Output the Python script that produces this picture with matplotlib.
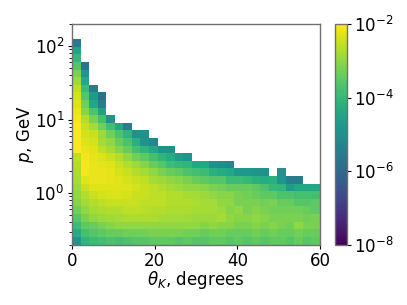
import numpy as np
import matplotlib
matplotlib.use('Agg')
import matplotlib.pyplot as plt
from matplotlib.colors import LogNorm

# log10 of the density, one list per row from the top, missing cells on the right are empty
theta_edges = np.linspace(0, 60, 30)
p_edges = np.logspace(np.log10(200), np.log10(0.2), 30)

row_02 = [-5.6]
row_03 = [-4.5]
row_04 = [-4.0]
row_05 = [-3.6, -5.7]
row_06 = [-3.2, -4.9]
row_07 = [-2.9, -4.4]
row_08 = [-2.6, -3.9, -5.5]
row_09 = [-2.4, -3.6, -4.7, -5.8]
row_10 = [-2.3, -3.3, -4.4, -5.5]
row_11 = [-2.2, -3.1, -3.7, -4.6]
row_12 = [-2.1, -2.7, -3.2, -3.8, -4.9]
row_13 = [-2.0, -2.5, -2.8, -3.3, -3.8, -4.4, -5.5]
row_14 = [-2.0, -2.4, -2.5, -2.9, -3.3, -3.7, -4.1, -5.0, -5.0]
row_15 = [-2.0, -2.3, -2.4, -2.8, -3.0, -3.4, -3.7, -4.2, -4.9, -5.2]
row_16 = [-2.0, -2.2, -2.3, -2.6, -2.8, -3.1, -3.4, -3.8, -4.1, -4.4, -4.9, -5.0]
row_17 = [-2.6, -2.1, -2.25, -2.35, -2.5, -2.7, -3.0, -3.3, -3.5, -3.8, -4.1, -4.3, -4.7, -4.9]
row_18 = [-2.7, -2.05, -2.2, -2.25, -2.3, -2.5, -2.7, -2.9, -3.1, -3.4, -3.6, -3.9, -4.0, -4.1,
          -4.4, -4.4, -5.0, -5.1, -5.2]
row_19 = [-2.75, -2.1, -2.2, -2.2, -2.25, -2.4, -2.5, -2.7, -2.8, -3.0, -3.2, -3.4, -3.5, -3.7,
          -3.8, -3.9, -4.2, -4.3, -4.4, -4.8, -4.8, -4.9, -5.0, np.nan, -5.0]
row_20 = [-2.8, -2.3, -2.2, -2.2, -2.25, -2.3, -2.4, -2.5, -2.6, -2.8, -2.9, -3.0, -3.1, -3.2,
          -3.4, -3.5, -3.6, -3.6, -3.9, -3.9, -4.0, -4.2, -4.3, -4.2, -4.9, -5.5, -5.5]
row_21 = [-2.9, -2.5, -2.3, -2.3, -2.3, -2.3, -2.3, -2.4, -2.5, -2.6, -2.7, -2.8, -2.9, -3.0,
          -3.0, -3.1, -3.2, -3.3, -3.4, -3.4, -3.4, -3.5, -3.7, -4.0, -4.1, -4.7, -4.4, -4.4, -4.4]
row_22 = [-3.0, -2.7, -2.5, -2.4, -2.35, -2.35, -2.4, -2.5, -2.5, -2.6, -2.6, -2.7, -2.7, -2.8,
          -2.8, -2.9, -3.0, -3.1, -3.1, -3.2, -3.3, -3.4, -3.5, -3.5, -3.7, -3.7, -3.8, -3.8, -3.8]
row_23 = [-3.1, -2.8, -2.7, -2.6, -2.5, -2.5, -2.5, -2.5, -2.6, -2.6, -2.6, -2.7, -2.7, -2.7,
          -2.75, -2.8, -2.8, -3.0, -3.0, -3.2, -3.2, -3.2, -3.3, -3.2, -3.4, -3.4, -3.6, -3.6, -3.5]
row_24 = [-3.3, -3.0, -2.8, -2.75, -2.7, -2.7, -2.6, -2.6, -2.65, -2.7, -2.7, -2.75, -2.75, -2.75,
          -2.8, -2.8, -2.8, -2.9, -3.1, -3.0, -3.2, -3.1, -3.2, -3.3, -3.3, -3.3, -3.3, -3.4, -3.5]
row_25 = [-3.6, -3.2, -3.0, -2.9, -2.85, -2.8, -2.75, -2.75, -2.75, -2.75, -2.8, -2.8, -2.8, -2.85,
          -2.9, -2.9, -2.9, -2.8, -3.0, -3.1, -3.1, -3.0, -3.1, -3.2, -3.2, -3.2, -3.2, -3.3, -3.2]
row_26 = [-3.9, -3.5, -3.4, -3.2, -3.1, -3.0, -3.0, -3.0, -3.0, -3.0, -3.0, -3.0, -3.0, -3.0,
          -3.0, -3.1, -3.0, -3.1, -3.1, -3.2, -3.2, -3.1, -3.2, -3.1, -3.2, -3.3, -3.0, -3.2, -3.2]
row_27 = [-4.3, -3.8, -3.6, -3.5, -3.4, -3.4, -3.3, -3.3, -3.3, -3.2, -3.2, -3.2, -3.2, -3.3,
          -3.3, -3.4, -3.3, -3.3, -3.4, -3.4, -3.4, -3.3, -3.4, -3.3, -3.4, -3.4, -3.3, -3.4, -3.4]
row_28 = [-4.9, -4.1, -3.9, -3.8, -3.7, -3.8, -3.7, -3.6, -3.6, -3.5, -3.5, -3.5, -3.6, -3.5,
          -3.6, -3.6, -3.5, -3.5, -3.6, -3.5, -3.6, -3.5, -3.6, -3.5, -3.5, -3.6, -3.4, -3.6, -3.5]

rows = [[], [], row_02, row_03, row_04, row_05, row_06, row_07, row_08, row_09, row_10, row_11,
        row_12, row_13, row_14, row_15, row_16, row_17, row_18, row_19, row_20, row_21, row_22,
        row_23, row_24, row_25, row_26, row_27, row_28]

grid = np.full((29, 29), np.nan)
for i, r in enumerate(rows):
    grid[i, :len(r)] = r
density = np.ma.masked_invalid(10.0 ** grid)

fig = plt.figure(figsize=(4.07, 3.05), dpi=100)
ax = fig.add_axes([72 / 407, 1 - 244.5 / 305, 248 / 407, 220.5 / 305])
mesh = ax.pcolormesh(theta_edges, p_edges, density, cmap='viridis',
                     norm=LogNorm(vmin=1e-8, vmax=1e-2))
ax.set_yscale('log')
ax.set_xlim(0, 60)
ax.set_ylim(0.2, 200)
ax.set_xticks([0, 20, 40, 60])
ax.tick_params(labelsize=12, length=3, pad=2.5)
ax.tick_params(which='minor', length=2)
ax.set_xlabel(r'$\theta_K$, degrees', fontsize=12, labelpad=-1)
ax.set_ylabel(r'$p$, GeV', fontsize=12, labelpad=-1)
for s in ax.spines.values():
    s.set_linewidth(1.0)
    s.set_color('#707070')

cax = fig.add_axes([335 / 407, 1 - 245 / 305, 11.5 / 407, 221 / 305])
cb = fig.colorbar(mesh, cax=cax)
cb.set_ticks([1e-8, 1e-6, 1e-4, 1e-2])
cb.minorticks_off()
cb.ax.tick_params(labelsize=12, length=3, pad=2.5)
cb.outline.set_linewidth(1.0)
cb.outline.set_edgecolor('#707070')

fig.savefig('out.png', dpi=100)
